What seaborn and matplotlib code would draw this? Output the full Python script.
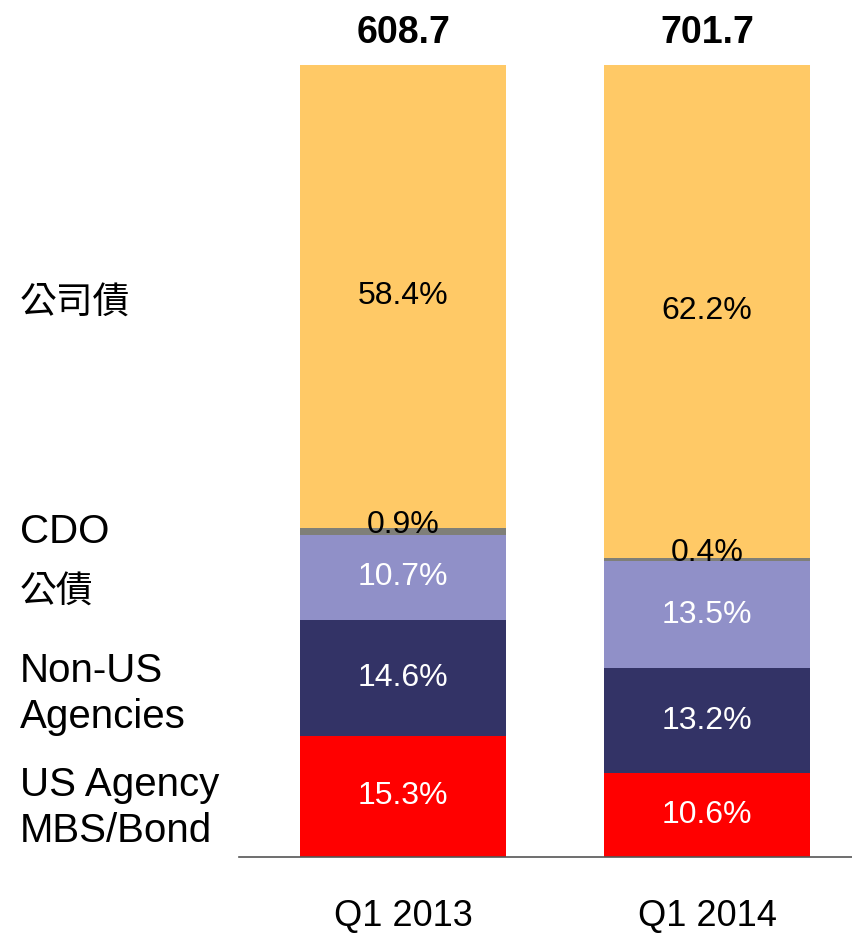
import matplotlib
matplotlib.use('Agg')
import matplotlib.pyplot as plt
import seaborn as sns
import numpy as np
import pandas as pd

# data
quarters = ['Q1 2013', 'Q1 2014']
totals = [608.7, 701.7]
us_agency = [15.3, 10.6]
non_us = [14.6, 13.2]
gov_bond = [10.7, 13.5]
cdo = [0.9, 0.4]
corp_bond = [58.4, 62.2]

series_names = ['US Agency\nMBS/Bond', 'Non-US\nAgencies', '公債', 'CDO', '公司債']
series_vals = [us_agency, non_us, gov_bond, cdo, corp_bond]
colors = ['#FF0000', '#333366', '#9090C8', '#7F7F78', '#FFC966']
label_colors = ['white', 'white', 'white', 'black', 'black']

sns.set_style('white')
plt.rcParams['font.family'] = ['Liberation Sans', 'Noto Sans CJK TC', 'DejaVu Sans']
plt.rcParams['text.color'] = 'black'
plt.rcParams['xtick.color'] = 'black'

fig = plt.figure(figsize=(8.52, 9.33), dpi=100)
ax = fig.add_axes([239/852, 1-857/933, 1-239/852, 793/933])

bottom = np.zeros(len(quarters))
for name, vals, c, lc in zip(series_names, series_vals, colors, label_colors):
  df = pd.DataFrame({'quarter': quarters, 'pct': vals})
  sns.barplot(data=df, x='quarter', y='pct', color=c, bottom=bottom,
              width=0.68, saturation=1, ax=ax, linewidth=0)
  for i, v in enumerate(vals):
    dy = 5 if name == 'CDO' else 0
    ax.annotate(f'{v:.1f}%', (i, bottom[i] + v/2), xytext=(0, dy),
                textcoords='offset points', ha='center', va='center',
                color=lc, fontsize=23)
  bottom = bottom + np.array(vals)

for i, t in enumerate(totals):
  ax.annotate(f'{t:.1f}', (i, bottom[i]), xytext=(0, 23), textcoords='offset points',
              ha='center', va='center', fontsize=27, fontweight='bold')

# category labels on the left
label_y = [808, 694, 592, 532, 303]
for name, y in zip(series_names, label_y):
  fs = 29 if name.isascii() else 26.5
  fig.text(20/852, 1-y/933, name, ha='left', va='center', fontsize=fs,
           linespacing=1.25)

ax.set_xlim(-0.54, 1.477)
ax.set_ylim(0, 100)
ax.set_xlabel('')
ax.set_ylabel('')
ax.set_yticks([])
for s in ['top', 'right', 'left']:
  ax.spines[s].set_visible(False)
ax.spines['bottom'].set_color('#555555')
ax.spines['bottom'].set_linewidth(1.2)
ax.tick_params(axis='x', length=0, pad=30, labelsize=26)

fig.savefig('out.png', dpi=100)
